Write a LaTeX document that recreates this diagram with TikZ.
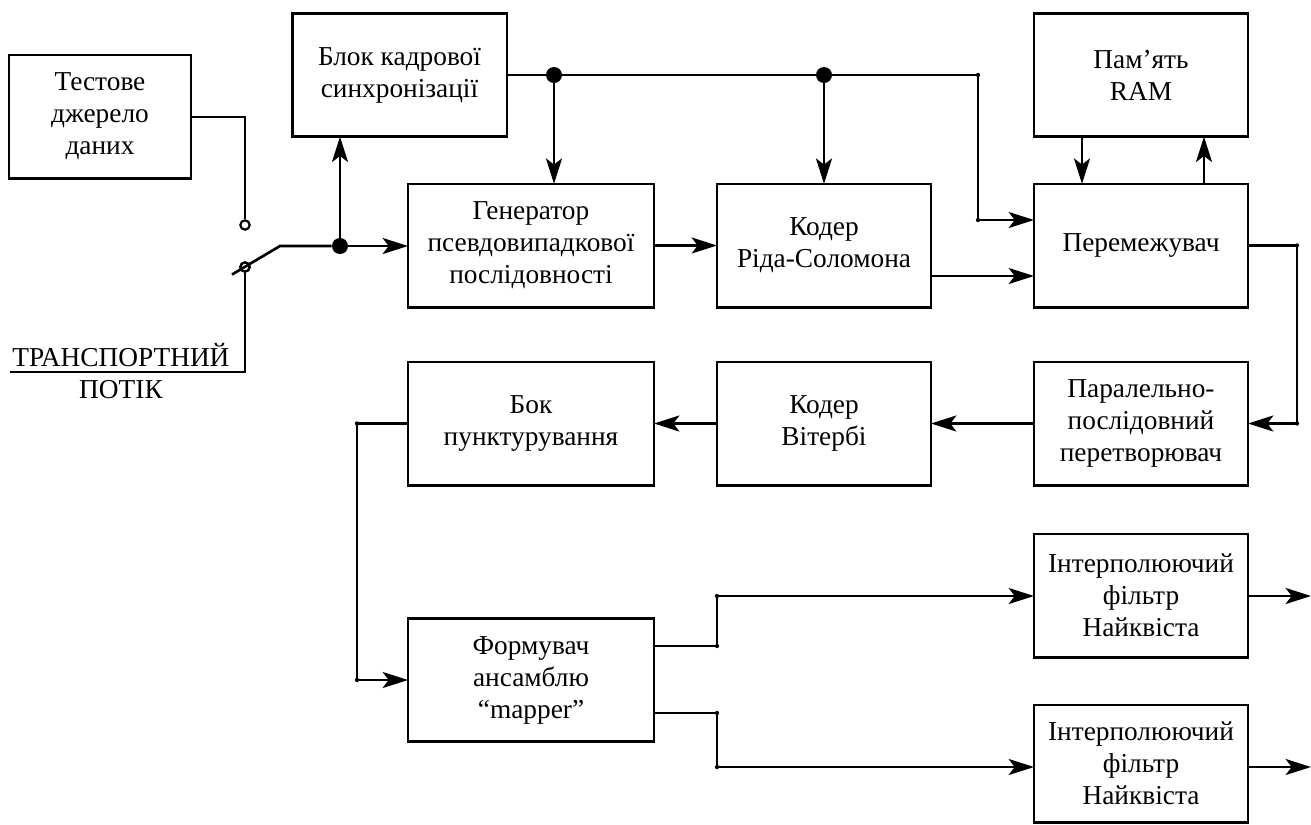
\documentclass[tikz,border=0pt]{standalone}
\usepackage{fontspec}
\setmainfont{Liberation Serif}
\usetikzlibrary{arrows.meta}
\begin{document}
\begin{tikzpicture}[x=0.75pt,y=-0.75pt,
  blk/.style={draw, line width=2pt, inner sep=0pt, outer sep=0pt, align=center,
              font=\fontsize{20.5}{24}\selectfont, minimum height=92.5pt},
  wide/.style={minimum width=184.5pt},
  narrow/.style={minimum width=160.5pt},
  wire/.style={line width=2pt, line join=miter},
  arr/.style={wire, -{Stealth[length=19pt,width=12pt,inset=4.5pt]}},
  junc/.style={circle, fill, inner sep=0pt, minimum size=12pt},
  kink/.style={circle, fill, inner sep=0pt, minimum size=3.2pt},
  contact/.style={circle, draw, line width=1.6pt, fill=white, inner sep=0pt, minimum size=7pt}]
\useasboundingbox (0,0) rectangle (1311,825);

% blocks
\node[blk, minimum width=136.5pt] (src)  at (100,116.5) {Тестове\\джерело\\даних};
\node[blk, minimum width=161pt]   (sync) at (399.5,75)  {Блок кадрової\\синхронізації};
\node[blk, narrow]                (ram)  at (1141,75)   {Пам’ять\\RAM};
\node[blk, wide]                  (prbs) at (531,245.5) {Генератор\\псевдовипадкової\\послідовності};
\node[blk, narrow]                (rs)   at (824,245.5) {Кодер\\Ріда-Соломона};
\node[blk, narrow]                (intl) at (1141,245.5){Перемежувач};
\node[blk, wide]                  (punc) at (531,423.5) {Бок\\пунктурування};
\node[blk, narrow]                (vit)  at (824,423.5) {Кодер\\Вітербі};
\node[blk, narrow]                (ps)   at (1141,423.5){Паралельно-\\послідовний\\перетворювач};
\node[blk, wide]                  (map)  at (531,680)   {Формувач\\ансамблю\\“mapper”};
\node[blk, narrow]                (nyq1) at (1141,595.5){Інтерполюючий\\фільтр\\Найквіста};
\node[blk, narrow, minimum height=88pt] (nyq2) at (1141,763.5){Інтерполюючий\\фільтр\\Найквіста};

% transport stream input and its label
\node[align=center, font=\fontsize{20.5}{24}\selectfont, inner sep=0pt] (ts) at (121,371)
  {ТРАНСПОРТНИЙ\\ПОТІК};
\coordinate (tsl) at (10,372);
\coordinate (tsr) at (245,372);

% switch contacts
\node[contact] (kA) at (245,225) {};
\node[contact] (kB) at (245,267) {};
\coordinate (srcR) at (191,117);
\coordinate (srcC) at (245,117);
\coordinate (bladeA) at (232,274.5);
\coordinate (bladeB) at (280,246);
\node[junc] (j0) at (340,246) {};

\draw[wire] (srcR) -- (srcC) -- (kA.north);
\draw[wire] (tsl) -- (tsr) -- (kB.south);
\draw[wire] (bladeA) -- (bladeB) -- (j0);
\node[contact, fill=none] at (kB) {};
\draw[arr] (j0) -- (prbs.west |- j0);
\draw[arr] (j0) -- (j0 |- sync.south);

% frame sync distribution
\coordinate (s0) at (sync.east);
\node[junc] (j1) at (554,75) {};
\node[junc] (j2) at (824,75) {};
\coordinate (c1) at (978,75);
\coordinate (c2) at (978,220);
\draw[wire] (s0) -- (j1) -- (j2) -- (c1) -- (c2);
\draw[arr] (c2) -- (intl.west |- c2);
\draw[arr] (j1) -- (j1 |- prbs.north);
\draw[arr] (j2) -- (j2 |- rs.north);

% main chain
\draw[arr] (prbs.east) -- (rs.west);
\coordinate (rsout) at (931,276);
\draw[arr] (rs.east |- rsout) -- (intl.west |- rsout);
\draw[arr] (ram.south -| 1082,0) -- (intl.north -| 1082,0);
\draw[arr] (intl.north -| 1204,0) -- (ram.south -| 1204,0);

\coordinate (c3) at (1297,245.5);
\coordinate (c4) at (1297,423.5);
\draw[wire] (intl.east) -- (c3) -- (c4);
\draw[arr] (c4) -- (ps.east);
\draw[arr] (ps.west) -- (vit.east);
\draw[arr] (vit.west) -- (punc.east);

\coordinate (c5) at (357,423.5);
\coordinate (c6) at (357,680);
\draw[wire] (punc.west) -- (c5) -- (c6);
\draw[arr] (c6) -- (map.west);

% mapper outputs
\coordinate (m1) at (654,646);
\coordinate (c7) at (717,646);
\coordinate (c8) at (717,596);
\coordinate (m2) at (654,713);
\coordinate (c9) at (717,713);
\coordinate (c10) at (717,767);
\draw[wire] (m1) -- (c7) -- (c8);
\draw[arr] (c8) -- (nyq1.west |- c8);
\draw[wire] (m2) -- (c9) -- (c10);
\draw[arr] (c10) -- (nyq2.west |- c10);

% outputs
\coordinate (o1) at (1311,596);
\coordinate (o2) at (1311,767);
\draw[arr] (nyq1.east |- o1) -- (o1);
\draw[arr] (nyq2.east |- o2) -- (o2);

% small dots at the wire bends
\foreach \p in {c1,c2,c3,c4,c5,c6,c7,c8,c9,c10}
  \node[kink] at (\p) {};
\end{tikzpicture}
\end{document}
